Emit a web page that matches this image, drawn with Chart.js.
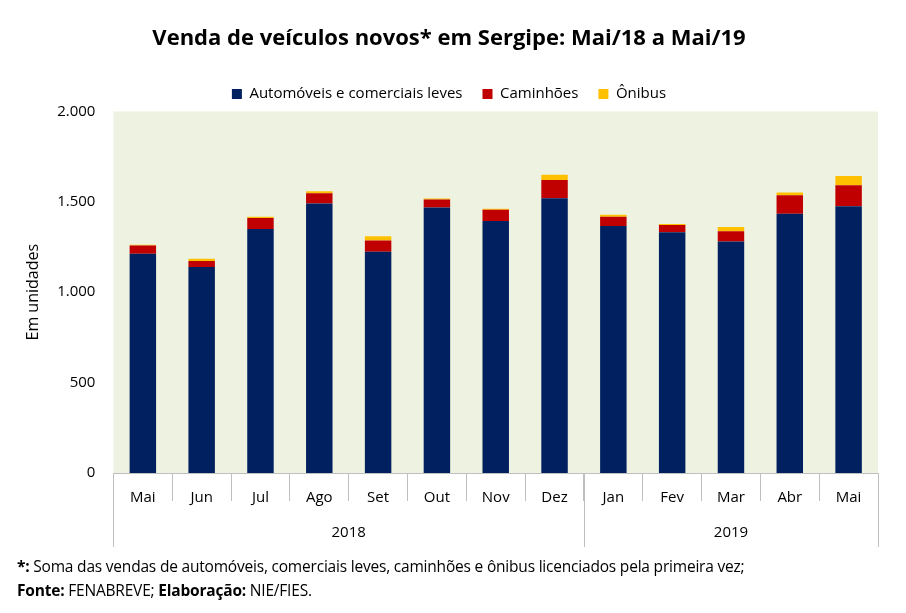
<!DOCTYPE html>
<html><head><meta charset="utf-8">
<script src="https://cdn.jsdelivr.net/npm/chart.js"></script>
<style>
body{margin:0;background:#fff;font-family:"Open Sans","Liberation Sans",sans-serif}
#wrap{position:relative;width:906px;height:613px}
#c{position:absolute;left:0;top:0}
#foot{position:absolute;left:17px;top:554px;font-size:15.5px;color:#000;line-height:24px;font-family:"Open Sans","Liberation Sans",sans-serif;letter-spacing:-0.2px}
</style></head>
<body><div id="wrap"><canvas id="c" width="906" height="613"></canvas>
<div id="foot"><b>*:</b> Soma das vendas de automóveis, comerciais leves, caminhões e ônibus licenciados pela primeira vez;<br><b>Fonte:</b> FENABREVE; <b>Elaboração:</b> NIE/FIES.</div></div>
<script>
const months = ['Mai','Jun','Jul','Ago','Set','Out','Nov','Dez','Jan','Fev','Mar','Abr','Mai'];
const years = [{label:'2018', from:0, to:7}, {label:'2019', from:8, to:12}];
const autos = [1212,1139,1349,1490,1224,1468,1394,1519,1366,1332,1281,1434,1475];
const caminhoes = [46,34,62,57,62,45,62,101,51,39,56,102,117];
const onibus = [5,12,6,11,23,5,6,29,11,6,23,16,51];

const font = "'Open Sans', 'Liberation Sans', sans-serif";

const bgPlugin = {
  id: 'bg',
  beforeDraw(chart) {
    const a = chart.chartArea, ctx = chart.ctx;
    ctx.save();
    ctx.fillStyle = '#EEF3E1';
    ctx.fillRect(a.left, a.top, a.right - a.left, a.bottom - a.top);
    ctx.restore();
  }
};

const labelPlugin = {
  id: 'years',
  afterDraw(chart) {
    const x = chart.scales.x, a = chart.chartArea, ctx = chart.ctx;
    const step = x.getPixelForValue(1) - x.getPixelForValue(0);
    ctx.save();
    ctx.strokeStyle = '#bfbfbf';
    ctx.lineWidth = 1;
    ctx.fillStyle = '#000';
    ctx.font = '15px ' + font;
    ctx.textAlign = 'center';
    ctx.textBaseline = 'middle';
    months.forEach((m, i) => ctx.fillText(m, x.getPixelForValue(i), a.bottom + 25));
    years.forEach(y => {
      const l = x.getPixelForValue(y.from) - step / 2;
      const r = x.getPixelForValue(y.to) + step / 2;
      [l, r].forEach(px => {
        ctx.beginPath();
        ctx.moveTo(Math.round(px) + 0.5, a.bottom);
        ctx.lineTo(Math.round(px) + 0.5, a.bottom + 74);
        ctx.stroke();
      });
      ctx.fillText(y.label, (l + r) / 2, a.bottom + 60);
    });
    ctx.restore();
  }
};

new Chart(document.getElementById('c'), {
  type: 'bar',
  data: {
    labels: months,
    datasets: [
      { label: 'Automóveis e comerciais leves', data: autos, backgroundColor: '#002060' },
      { label: 'Caminhões', data: caminhoes, backgroundColor: '#C00000' },
      { label: 'Ônibus', data: onibus, backgroundColor: '#FFC000' }
    ]
  },
  options: {
    responsive: false,
    animation: false,
    layout: { padding: { left: 20, right: 28, top: 4, bottom: 94 } },
    datasets: { bar: { categoryPercentage: 1, barPercentage: 0.45 } },
    plugins: {
      title: { display: true, text: 'Venda de veículos novos* em Sergipe: Mai/18 a Mai/19',
        color: '#000', font: { family: font, size: 22, weight: 'bold' }, padding: { top: 22, bottom: 14 } },
      legend: { labels: { color: '#000', boxWidth: 10, boxHeight: 10, font: { family: font, size: 15 }, padding: 20 } },
      tooltip: { enabled: false }
    },
    scales: {
      x: {
        stacked: true,
        grid: { drawOnChartArea: false, color: '#bfbfbf', tickLength: 28 },
        border: { color: '#bfbfbf' },
        ticks: { color: 'rgba(0,0,0,0)', font: { family: font, size: 15 }, padding: 0 }
      },
      y: {
        stacked: true, min: 0, max: 2000,
        ticks: { stepSize: 500, color: '#000', font: { family: font, size: 15 }, padding: 10,
          callback: v => v.toLocaleString('pt-BR') },
        grid: { display: false },
        border: { display: false },
        title: { display: true, text: 'Em unidades', color: '#000', font: { family: font, size: 16 } }
      }
    }
  },
  plugins: [bgPlugin, labelPlugin]
});
</script></body></html>
